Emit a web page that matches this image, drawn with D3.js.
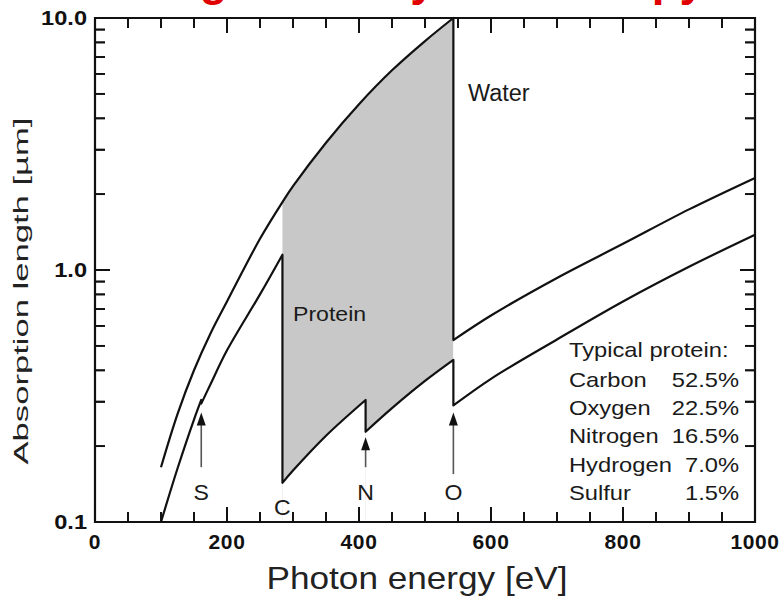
<!DOCTYPE html>
<html>
<head>
<meta charset="utf-8">
<script src="https://cdn.jsdelivr.net/npm/d3@7"></script>
<style>
  body { margin: 0; background: #fff; }
  svg { display: block; font-family: 'Liberation Sans', Arial, Helvetica, sans-serif; }
</style>
</head>
<body>
<div id="chart"></div>
<script>
// absorption length (µm) vs photon energy (eV)
const waterEnergyLow = [100, 125, 150, 175, 200, 250, 284, 300, 350, 400, 450, 500, 543];
const waterLengthLow = [0.165, 0.268, 0.40, 0.56, 0.75, 1.33, 1.86, 2.15, 3.2, 4.55, 6.2, 8.1, 10.0];
const waterEnergyHigh = [543, 600, 700, 800, 900, 1000];
const waterLengthHigh = [0.527, 0.66, 0.93, 1.27, 1.74, 2.32];

const proteinEnergyS = [100, 125, 150, 161];
const proteinLengthS = [0.1, 0.163, 0.255, 0.305];
const proteinEnergyC = [161, 175, 200, 250, 284];
const proteinLengthC = [0.295, 0.352, 0.48, 0.8, 1.15];
const proteinEnergyN = [284, 300, 350, 410];
const proteinLengthN = [0.143, 0.16, 0.22, 0.305];
const proteinEnergyO = [410, 450, 500, 543];
const proteinLengthO = [0.228, 0.283, 0.363, 0.44];
const proteinEnergyHigh = [543, 600, 700, 800, 900, 1000];
const proteinLengthHigh = [0.29, 0.37, 0.53, 0.75, 1.03, 1.38];

// absorption edges marked with arrows
const edgeLabels = ['S', 'C', 'N', 'O'];
const edgeEnergies = [161, 284, 410, 543];
const arrowTips = [0.272, null, 0.217, 0.272];
const arrowTails = [0.165, null, 0.165, 0.155];

const elements = ['Carbon', 'Oxygen', 'Nitrogen', 'Hydrogen', 'Sulfur'];
const percents = [52.5, 22.5, 16.5, 7.0, 1.5];

const xTicks = [0, 200, 400, 600, 800, 1000];
const xMinorTicks = d3.range(0, 1001, 50);
const yTicks = [0.1, 1, 10];
const yMinorTicks = [0.2, 0.3, 0.4, 0.5, 0.6, 0.7, 0.8, 0.9, 2, 3, 4, 5, 6, 7, 8, 9];

const width = 779;
const height = 599;
const plot = { left: 95, right: 755, top: 18, bottom: 522 };

const x = d3.scaleLinear().domain([0, 1000]).range([plot.left, plot.right]);
const y = d3.scaleLog().domain([0.1, 10]).range([plot.bottom, plot.top]);

const zip = (e, l) => e.map((d, i) => [d, l[i]]);

const svg = d3
  .select('#chart')
  .append('svg')
  .attr('width', width)
  .attr('height', height);

// title, mostly cut off above the frame
svg
  .append('text')
  .attr('x', 19)
  .attr('y', -5.5)
  .attr('fill', '#e00000')
  .attr('font-weight', 'bold')
  .attr('font-size', 45.7)
  .attr('textLength', 686)
  .attr('lengthAdjust', 'spacingAndGlyphs')
  .text('Advantage of X-ray microscopy');

svg
  .append('defs')
  .append('clipPath')
  .attr('id', 'band')
  .append('rect')
  .attr('x', x(284))
  .attr('y', 0)
  .attr('width', x(543) - x(284))
  .attr('height', height);

const curve = d3.curveCatmullRom.alpha(0.5);

const lineGen = d3
  .line()
  .x(d => x(d[0]))
  .y(d => y(d[1]))
  .curve(curve);

const areaBelow = d3
  .area()
  .x(d => x(d[0]))
  .y0(y(0.1))
  .y1(d => y(d[1]))
  .curve(curve);

// gray band between water and protein, 284-543 eV
svg
  .append('path')
  .datum(zip(waterEnergyLow, waterLengthLow))
  .attr('d', areaBelow)
  .attr('fill', '#c8c8c8')
  .attr('clip-path', 'url(#band)');

[zip(proteinEnergyN, proteinLengthN), zip(proteinEnergyO, proteinLengthO)].forEach(seg => {
  svg.append('path').datum(seg).attr('d', areaBelow).attr('fill', '#fff');
});

// segments joined with vertical steps at the edges
const joined = segs =>
  segs.map((s, i) => (i === 0 ? lineGen(s) : lineGen(s).replace(/^M/, 'L'))).join('');

const curves = svg
  .append('g')
  .attr('fill', 'none')
  .attr('stroke', '#111')
  .attr('stroke-width', 2.2)
  .attr('stroke-linejoin', 'round');

curves
  .append('path')
  .attr('d', joined([zip(waterEnergyLow, waterLengthLow), zip(waterEnergyHigh, waterLengthHigh)]));

curves
  .append('path')
  .attr(
    'd',
    joined([
      zip(proteinEnergyS, proteinLengthS),
      zip(proteinEnergyC, proteinLengthC),
      zip(proteinEnergyN, proteinLengthN),
      zip(proteinEnergyO, proteinLengthO),
      zip(proteinEnergyHigh, proteinLengthHigh)
    ])
  );

// frame plus inward ticks on all four sides, in the same stroked group
const major = 15;
const minor = 10;
const xTickPath = (values, len) =>
  values.map(v => `M${x(v)},${plot.bottom}v${-len}M${x(v)},${plot.top}v${len}`).join('');
const yTickPath = (values, len) =>
  values.map(v => `M${plot.left},${y(v)}h${len}M${plot.right},${y(v)}h${-len}`).join('');

curves
  .append('path')
  .attr('stroke-width', 1.8)
  .attr('d', xTickPath(xMinorTicks, minor) + xTickPath(xTicks, major) +
    yTickPath(yMinorTicks, minor) + yTickPath(yTicks, major));

curves
  .append('path')
  .attr('stroke-linejoin', 'miter')
  .attr('d', `M${plot.left},${plot.top}H${plot.right}V${plot.bottom}H${plot.left}Z`);

// the same ticks again as thin filled bars
const bars = svg.append('g').attr('fill', '#111');
[[xMinorTicks, minor], [xTicks, major]].forEach(([values, len]) => {
  bars.append('g').selectAll('rect').data(values).join('rect')
    .attr('x', d => x(d) - 0.9).attr('y', plot.bottom - len).attr('width', 1.8).attr('height', len);
  bars.append('g').selectAll('rect').data(values).join('rect')
    .attr('x', d => x(d) - 0.9).attr('y', plot.top).attr('width', 1.8).attr('height', len);
});
[[yMinorTicks, minor], [yTicks, major]].forEach(([values, len]) => {
  bars.append('g').selectAll('rect').data(values).join('rect')
    .attr('x', plot.left).attr('y', d => y(d) - 0.9).attr('width', len).attr('height', 1.8);
  bars.append('g').selectAll('rect').data(values).join('rect')
    .attr('x', plot.right - len).attr('y', d => y(d) - 0.9).attr('width', len).attr('height', 1.8);
});

// tick labels
svg.append('g')
  .selectAll('text')
  .data(xTicks)
  .join('text')
  .attr('x', d => x(d))
  .attr('y', plot.bottom + 27)
  .attr('text-anchor', 'middle')
  .attr('font-size', 21)
  .attr('font-weight', 'bold')
  .attr('letter-spacing', 0.6)
  .attr('fill', '#111')
  .text(d3.format('d'));

svg.append('g')
  .selectAll('text')
  .data(yTicks)
  .join('text')
  .attr('transform', d => `translate(${plot.left - 8},${y(d) + 7}) scale(1.18,1)`)
  .attr('text-anchor', 'end')
  .attr('font-size', 20)
  .attr('font-weight', 'bold')
  .attr('fill', '#111')
  .text(d3.format('.1f'));

// edge arrows and letters
const label = (px, py, text, opts = {}) =>
  svg.append('text')
    .attr('transform', `translate(${px},${py}) scale(${opts.sx || 1.1},1)`)
    .attr('text-anchor', opts.anchor || 'start')
    .attr('font-size', opts.size || 21)
    .attr('fill', '#1a1a1a')
    .text(text);

edgeLabels.forEach((name, i) => {
  const ex = x(edgeEnergies[i]);
  if (arrowTips[i] != null) {
    const tip = y(arrowTips[i]);
    const tail = y(arrowTails[i]);
    svg.append('path')
      .attr('d', `M${ex},${tail}V${tip + 10}`)
      .attr('stroke', '#555').attr('stroke-width', 1.6);
    svg.append('path')
      .attr('d', `M${ex},${tip}L${ex - 4.5},${tip + 13}L${ex + 4.5},${tip + 13}Z`)
      .attr('fill', '#111');
  }
  const ly = name === 'C' ? plot.bottom - 7 : plot.bottom - 22;
  label(ex, ly, name, { anchor: 'middle', size: 22, sx: 1.05 });
});

label(468, 101, 'Water', { size: 23, sx: 1.02 });
label(293, 321, 'Protein', { size: 21, sx: 1.1 });

// composition table
label(569, 357, 'Typical protein:', { size: 21, sx: 1.13 });
elements.forEach((el, i) => {
  const ly = 387 + i * 28.2;
  label(569, ly, el, { size: 21, sx: 1.13 });
  label(739, ly, d3.format('.1f')(percents[i]) + '%', { size: 21, sx: 1.13, anchor: 'end' });
});

// axis titles
svg.append('text')
  .attr('x', 417)
  .attr('y', 589)
  .attr('text-anchor', 'middle')
  .attr('font-size', 32)
  .attr('fill', '#222')
  .attr('textLength', 301)
  .attr('lengthAdjust', 'spacingAndGlyphs')
  .text('Photon energy [eV]');

svg.append('text')
  .attr('transform', 'translate(28,291) rotate(-90)')
  .attr('text-anchor', 'middle')
  .attr('font-size', 20)
  .attr('fill', '#222')
  .attr('textLength', 347)
  .attr('lengthAdjust', 'spacingAndGlyphs')
  .text('Absorption length [µm]');
</script>
</body>
</html>
